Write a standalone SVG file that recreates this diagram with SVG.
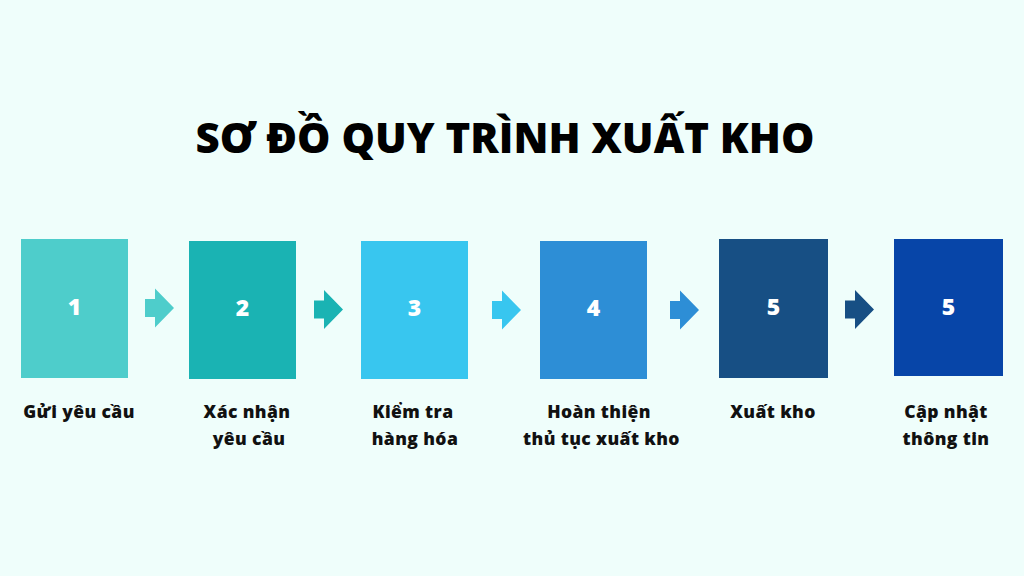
<svg xmlns="http://www.w3.org/2000/svg" width="1024" height="576" viewBox="0 0 1024 576">
<style>
.title{font-family:"Open Sans","Noto Sans",sans-serif;font-weight:800;font-size:42px;fill:#000;text-anchor:middle}
.num{font-family:"Open Sans","Noto Sans",sans-serif;font-weight:800;font-size:23px;fill:#fff;text-anchor:middle}
.lbl{font-family:"Open Sans","Noto Sans",sans-serif;font-weight:800;font-size:17.5px;fill:#111;text-anchor:middle;letter-spacing:0.4px}
</style>
<defs>
<path id="arr" d="M0,-9 L10,-9 L10,-19.5 L29,0 L10,19.5 L10,9 L0,9 Z"/>
</defs>
<rect width="1024" height="576" fill="#EFFEFB"/>
<text class="title" x="505" y="153">SƠ ĐỒ QUY TRÌNH XUẤT KHO</text>
<g id="connectors">
<use href="#arr" x="145" y="308" fill="#4ECDCB"/>
<use href="#arr" x="314" y="309.5" fill="#1AB3B3"/>
<use href="#arr" x="492" y="310" fill="#38C6EF"/>
<use href="#arr" x="670" y="310" fill="#2D8ED6"/>
<use href="#arr" x="845" y="309.5" fill="#174F84"/>
</g>
<g id="node1">
<rect x="21" y="239" width="107" height="139" fill="#4ECDCB"/>
<text class="num" x="74.5" y="315">1</text>
<text class="lbl" x="79" y="418">Gửi yêu cầu</text>
</g>
<g id="node2">
<rect x="189" y="241" width="107" height="138" fill="#1AB3B3"/>
<text class="num" x="242.5" y="316">2</text>
<text class="lbl" x="247" y="418">Xác nhận</text>
<text class="lbl" x="249" y="445">yêu cầu</text>
</g>
<g id="node3">
<rect x="361" y="241" width="107" height="138" fill="#38C6EF"/>
<text class="num" x="414.5" y="316">3</text>
<text class="lbl" x="413" y="418">Kiểm tra</text>
<text class="lbl" x="415" y="445">hàng hóa</text>
</g>
<g id="node4">
<rect x="540" y="241" width="107" height="138" fill="#2D8ED6"/>
<text class="num" x="593.5" y="316">4</text>
<text class="lbl" x="599" y="418">Hoàn thiện</text>
<text class="lbl" x="601.5" y="445">thủ tục xuất kho</text>
</g>
<g id="node5">
<rect x="719" y="239" width="109" height="139" fill="#174F84"/>
<text class="num" x="773.5" y="315">5</text>
<text class="lbl" x="773" y="418">Xuất kho</text>
</g>
<g id="node6">
<rect x="894" y="239" width="109" height="137" fill="#0745A8"/>
<text class="num" x="948.5" y="315">5</text>
<text class="lbl" x="946" y="418">Cập nhật</text>
<text class="lbl" x="946" y="445">thông tin</text>
</g>
</svg>
